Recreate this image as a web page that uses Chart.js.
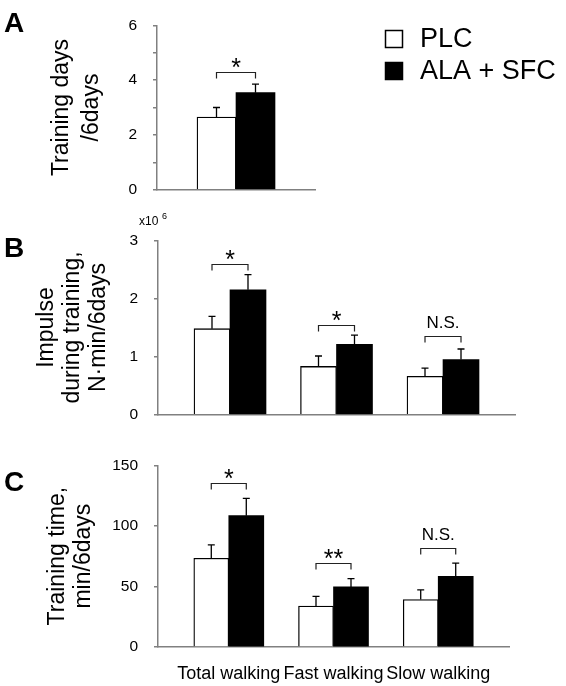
<!DOCTYPE html>
<html>
<head>
<meta charset="utf-8">
<script src="https://cdn.jsdelivr.net/npm/chart.js@4.4.0/dist/chart.umd.min.js"></script>
<style>
  body { margin: 0; background: #fff; }
  #wrap { position: relative; width: 566px; height: 686px; font-family: 'Liberation Sans', Arial, sans-serif; color: #000; }
  #wrap canvas { position: absolute; left: 0; }
  .panel { position: absolute; left: 4px; font-weight: bold; font-size: 28px; line-height: 1; }
  .exp { position: absolute; font-size: 12px; line-height: 1; }
</style>
</head>
<body>
<div id="wrap">
  <canvas id="chartA" width="566" height="215" style="top:0;width:566px;height:215px"></canvas>
  <canvas id="chartB" width="566" height="225" style="top:215px;width:566px;height:225px"></canvas>
  <canvas id="chartC" width="566" height="246" style="top:440px;width:566px;height:246px"></canvas>
  <div class="panel" style="top:9px">A</div>
  <div class="panel" style="top:234px">B</div>
  <div class="panel" style="top:468px">C</div>
  <div class="exp" style="left:139px;top:215px">x10</div>
  <div class="exp" style="left:162px;top:212px;font-size:9px">6</div>
</div>
<script>
// categories and group names
var categories = ['Total walking', 'Fast walking', 'Slow walking'];
var groups = ['PLC', 'ALA + SFC'];

// A: training days / 6days (total walking only)
var daysPLC = [2.65];
var daysPLCsem = [0.35];
var daysALA = [3.54];
var daysALAsem = [0.31];
var daysSig = ['*'];
var daysBracket = [4.3];

// B: impulse during training, x10^6 N·min/6days
var impulsePLC = [1.48, 0.83, 0.66];
var impulsePLCsem = [0.21, 0.18, 0.14];
var impulseALA = [2.15, 1.21, 0.95];
var impulseALAsem = [0.26, 0.16, 0.18];
var impulseSig = ['*', '*', 'N.S.'];
var impulseBracket = [2.6, 1.55, 1.36];

// C: training time, min/6days
var timePLC = [73.3, 33.8, 39.2];
var timePLCsem = [11, 8, 8];
var timeALA = [108.4, 49.6, 58.3];
var timeALAsem = [14.3, 6.8, 11];
var timeSig = ['*', '**', 'N.S.'];
var timeBracket = [135, 69, 82];

var FONT = "'Liberation Sans', Arial, sans-serif";
var AXIS = '#808080';

// one-sided error bars (mean + sem)
var errorBars = {
  id: 'errorBars',
  afterDatasetsDraw: function (chart) {
    var ctx = chart.ctx, y = chart.scales.y;
    chart.data.datasets.forEach(function (ds, di) {
      chart.getDatasetMeta(di).data.forEach(function (bar, j) {
        var top = y.getPixelForValue(ds.data[j].y + ds.sem[j]);
        ctx.save();
        ctx.strokeStyle = '#000';
        ctx.lineWidth = 1.3;
        ctx.beginPath();
        ctx.moveTo(bar.x, bar.y);
        ctx.lineTo(bar.x, top);
        ctx.moveTo(bar.x - 3.5, top);
        ctx.lineTo(bar.x + 3.5, top);
        ctx.stroke();
        ctx.restore();
      });
    });
  }
};

// significance brackets
var brackets = {
  id: 'brackets',
  afterDatasetsDraw: function (chart, args, opts) {
    if (!opts.marks) return;
    var ctx = chart.ctx, y = chart.scales.y;
    var a = chart.getDatasetMeta(0).data, b = chart.getDatasetMeta(1).data;
    opts.marks.forEach(function (m, j) {
      var top = Math.round(y.getPixelForValue(opts.levels[j])) + 0.5;
      var x1 = a[j].x, x2 = b[j].x;
      ctx.save();
      ctx.strokeStyle = '#222';
      ctx.lineWidth = 1.2;
      ctx.beginPath();
      ctx.moveTo(x1, top + 6);
      ctx.lineTo(x1, top);
      ctx.lineTo(x2, top);
      ctx.lineTo(x2, top + 6);
      ctx.stroke();
      ctx.fillStyle = '#000';
      ctx.textAlign = 'center';
      ctx.textBaseline = 'alphabetic';
      if (m === 'N.S.') {
        ctx.font = '17px ' + FONT;
        ctx.fillText(m, (x1 + x2) / 2, top - 9);
      } else {
        ctx.font = '25px ' + FONT;
        ctx.fillText(m, (x1 + x2) / 2, top + 3);
      }
      ctx.restore();
    });
  }
};

// legend boxes in the top right
var legendBox = {
  id: 'legendBox',
  afterDraw: function (chart, args, opts) {
    if (!opts.show) return;
    var ctx = chart.ctx;
    chart.data.datasets.forEach(function (ds, i) {
      var y = opts.y + i * opts.gap;
      ctx.save();
      ctx.fillStyle = ds.backgroundColor;
      ctx.fillRect(opts.x, y, 18, 18);
      ctx.strokeStyle = '#000';
      ctx.lineWidth = 1.5;
      ctx.strokeRect(opts.x + 0.5, y + 0.5, 17, 17);
      ctx.fillStyle = '#000';
      ctx.font = '27px ' + FONT;
      ctx.textBaseline = 'middle';
      ctx.fillText(ds.label, opts.x + 35, y + 10);
      ctx.restore();
    });
  }
};

function points(vals) {
  return vals.map(function (v, i) { return { x: i + 0.5, y: v }; });
}

function makeChart(id, p) {
  var ctx = document.getElementById(id).getContext('2d');
  return new Chart(ctx, {
    type: 'bar',
    data: {
      datasets: [{
        label: groups[0],
        data: points(p.plc),
        sem: p.plcSem,
        backgroundColor: '#ffffff',
        borderColor: '#000000',
        borderWidth: 1.3,
        barThickness: p.barW
      }, {
        label: groups[1],
        data: points(p.ala),
        sem: p.alaSem,
        backgroundColor: '#000000',
        borderColor: '#000000',
        borderWidth: 0,
        barThickness: p.barW
      }]
    },
    plugins: [errorBars, brackets, legendBox],
    options: {
      responsive: false,
      animation: false,
      layout: { padding: p.pad },
      plugins: {
        legend: { display: false },
        tooltip: { enabled: false },
        brackets: { marks: p.sig, levels: p.levels },
        legendBox: p.legend || { show: false }
      },
      scales: {
        x: {
          type: 'linear',
          min: p.xMin,
          max: p.xMax,
          offset: false,
          afterBuildTicks: function (scale) {
            scale.ticks = p.plc.map(function (v, i) { return { value: i + 0.5 }; });
          },
          afterFit: function (scale) { scale.height = p.xH; },
          grid: { display: false, drawTicks: false },
          border: { display: true, color: AXIS, width: 1.5 },
          ticks: {
            display: p.showX,
            autoSkip: false,
            maxRotation: 0,
            padding: 16,
            color: '#000',
            font: { family: FONT, size: 18 },
            callback: function (v) { return categories[Math.floor(v)]; }
          }
        },
        y: {
          min: 0,
          max: p.yMax,
          afterFit: function (scale) { scale.width = p.yW; },
          grid: { display: true, drawOnChartArea: false, drawTicks: true, tickLength: 4, color: AXIS, lineWidth: 1.5 },
          border: { display: true, color: AXIS, width: 1.5 },
          ticks: {
            stepSize: p.step,
            padding: 16,
            color: '#000',
            font: { family: FONT, size: 15.5 },
            callback: p.tickCb || function (v) { return v; }
          },
          title: {
            display: true,
            text: p.title,
            color: '#000',
            font: { family: FONT, size: 23, lineHeight: p.lh },
            padding: { top: p.titlePad, bottom: 0 }
          }
        }
      }
    }
  });
}

makeChart('chartA', {
  plc: daysPLC, plcSem: daysPLCsem, ala: daysALA, alaSem: daysALAsem,
  sig: daysSig, levels: daysBracket,
  barW: 39, xMin: -0.25, xMax: 1.25, xH: 4, showX: false,
  yMax: 6, step: 1, yW: 157,
  tickCb: function (v) { return v % 2 === 0 ? v : ''; },
  title: ['Training days', '/6days'], lh: 1.3, titlePad: 47,
  pad: { left: 0, right: 251, top: 8, bottom: 13 },
  legend: { show: true, x: 385, y: 30, gap: 32 }
});

makeChart('chartB', {
  plc: impulsePLC, plcSem: impulsePLCsem, ala: impulseALA, alaSem: impulseALAsem,
  sig: impulseSig, levels: impulseBracket,
  barW: 36, xMin: -0.176, xMax: 3.176, xH: 4, showX: false,
  yMax: 3, step: 1, yW: 158,
  title: ['Impulse', 'during training,', 'N\u00b7min/6days'], lh: 1.12, titlePad: 34,
  pad: { left: 0, right: 51, top: 17, bottom: 5 }
});

makeChart('chartC', {
  plc: timePLC, plcSem: timePLCsem, ala: timeALA, alaSem: timeALAsem,
  sig: timeSig, levels: timeBracket,
  barW: 35, xMin: -0.176, xMax: 3.176, xH: 39, showX: true,
  yMax: 150, step: 50, yW: 158,
  title: ['Training time,', 'min/6days'], lh: 1.15, titlePad: 44,
  pad: { left: 0, right: 57, top: 15, bottom: 0 }
});
</script>
</body>
</html>
